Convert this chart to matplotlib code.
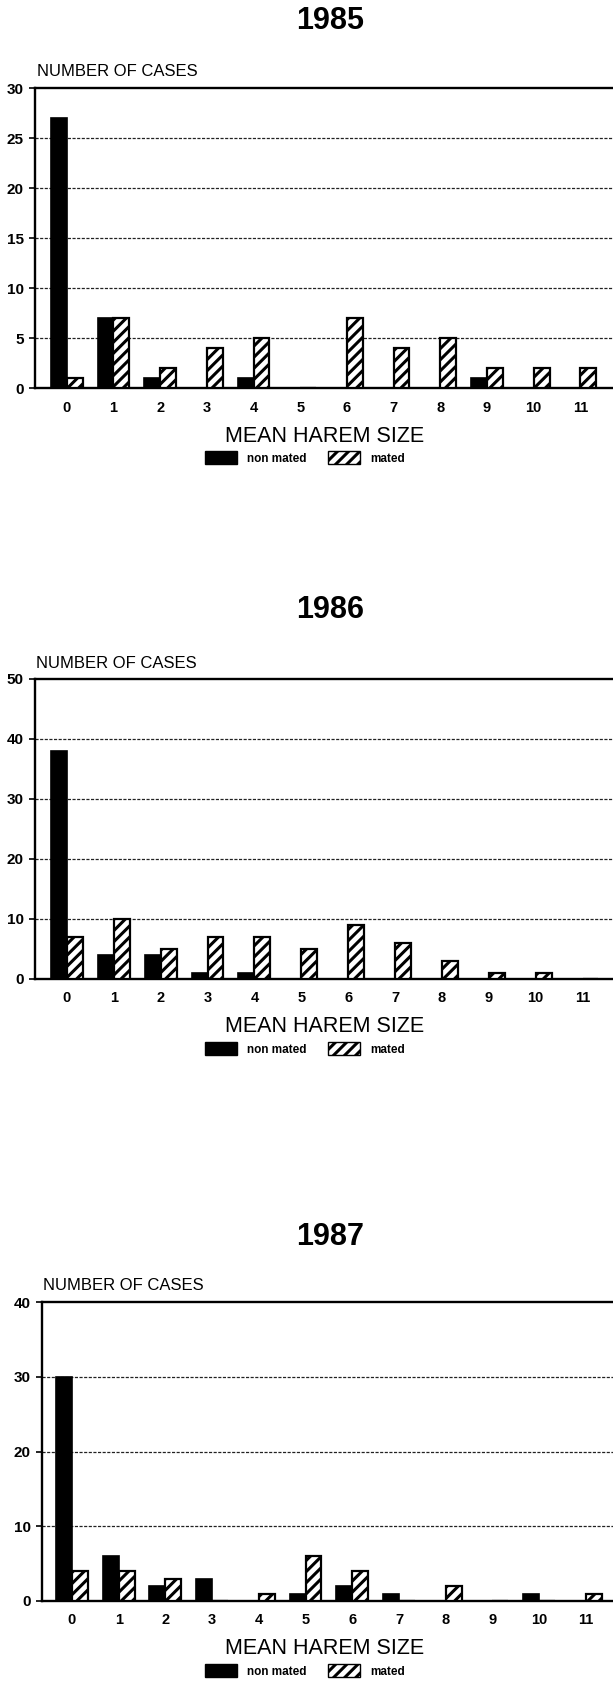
import matplotlib
matplotlib.use("Agg")
import matplotlib.pyplot as plt
from matplotlib.patches import Patch
import numpy as np

plt.rcParams['font.family'] = ['Liberation Sans', 'DejaVu Sans']
plt.rcParams['hatch.linewidth'] = 2.2

categories = [0, 1, 2, 3, 4, 5, 6, 7, 8, 9, 10, 11]
tick_labels = ["0", "1", "2", "3", "4", "5", "6", "7", "8", "9", "10", "11"]

years = ["1985", "1986", "1987"]
nonmated_1985 = [27, 7, 1, 0, 1, 0, 0, 0, 0, 1, 0, 0]
mated_1985 = [1, 7, 2, 4, 5, 0, 7, 4, 5, 2, 2, 2]
nonmated_1986 = [38, 4, 4, 1, 1, 0, 0, 0, 0, 0, 0, 0]
mated_1986 = [7, 10, 5, 7, 7, 5, 9, 6, 3, 1, 1, 0]
nonmated_1987 = [30, 6, 2, 3, 0, 1, 2, 1, 0, 0, 1, 0]
mated_1987 = [4, 4, 3, 0, 1, 6, 4, 0, 2, 0, 0, 1]

y_ticks_1985 = [0, 5, 10, 15, 20, 25, 30]
y_ticks_1986 = [0, 10, 20, 30, 40, 50]
y_ticks_1987 = [0, 10, 20, 30, 40]

W, H = 613, 1686
fig = plt.figure(figsize=(W / 100, H / 100), dpi=100)

panels = [
    dict(year="1985", non=nonmated_1985, mat=mated_1985, yt=y_ticks_1985,
         left=35, top=88, bottom=388, xl=(-0.68, 11.70), title_y=21, ncase_x=37),
    dict(year="1986", non=nonmated_1986, mat=mated_1986, yt=y_ticks_1986,
         left=35, top=679, bottom=979, xl=(-0.68, 11.65), title_y=610, ncase_x=36),
    dict(year="1987", non=nonmated_1987, mat=mated_1987, yt=y_ticks_1987,
         left=42, top=1302, bottom=1601, xl=(-0.64, 11.58), title_y=1237, ncase_x=43),
]

x = np.array(categories, dtype=float)
bw = 0.34

for p in panels:
    l = p["left"] / W
    b = 1 - p["bottom"] / H
    h = (p["bottom"] - p["top"]) / H
    ax = fig.add_axes([l, b, 1 - l, h])
    ax.bar(x - bw / 2, p["non"], width=bw, color="black", edgecolor="black",
           linewidth=1.2, zorder=3)
    ax.bar(x + bw / 2, p["mat"], width=bw, color="white", edgecolor="black",
           hatch="///", linewidth=1.6, zorder=3)
    ax.set_xlim(*p["xl"])
    ax.set_ylim(0, p["yt"][-1])
    ax.set_yticks(p["yt"])
    ax.set_xticks(x)
    ax.set_xticklabels(tick_labels)
    for yv in p["yt"][1:-1]:
        ax.axhline(yv, color="#222222", linewidth=0.9, linestyle=(0, (2.5, 1.2)), zorder=1)
    for s in ["left", "top", "bottom"]:
        ax.spines[s].set_linewidth(1.7)
    ax.spines["right"].set_visible(False)
    ax.tick_params(axis="x", length=0, pad=9, labelsize=10.5)
    ax.tick_params(axis="y", length=4, width=1.2, pad=4, labelsize=11)
    for t in ax.get_xticklabels() + ax.get_yticklabels():
        t.set_fontweight("bold")

    fig.text(330 / W, 1 - p["title_y"] / H, p["year"], ha="center", va="center",
             fontsize=22, fontweight="bold")
    fig.text(p["ncase_x"] / W, 1 - (p["top"] - 16) / H, "NUMBER OF CASES",
             ha="left", va="center", fontsize=12)
    fig.text(325 / W, 1 - (p["bottom"] + 48) / H, "MEAN HAREM SIZE",
             ha="center", va="center", fontsize=15.5)
    handles = [Patch(facecolor="black", edgecolor="black"),
               Patch(facecolor="white", edgecolor="black", hatch="///")]
    fig.legend(handles, ["non mated", "mated"], loc="center",
               bbox_to_anchor=(305 / W, 1 - (p["bottom"] + 70) / H),
               ncol=2, frameon=False, handlelength=2.7, handleheight=1.2,
               handletextpad=0.9, columnspacing=1.8,
               prop=dict(size=8.5, weight="bold"))

fig.savefig("out.png", dpi=100)
